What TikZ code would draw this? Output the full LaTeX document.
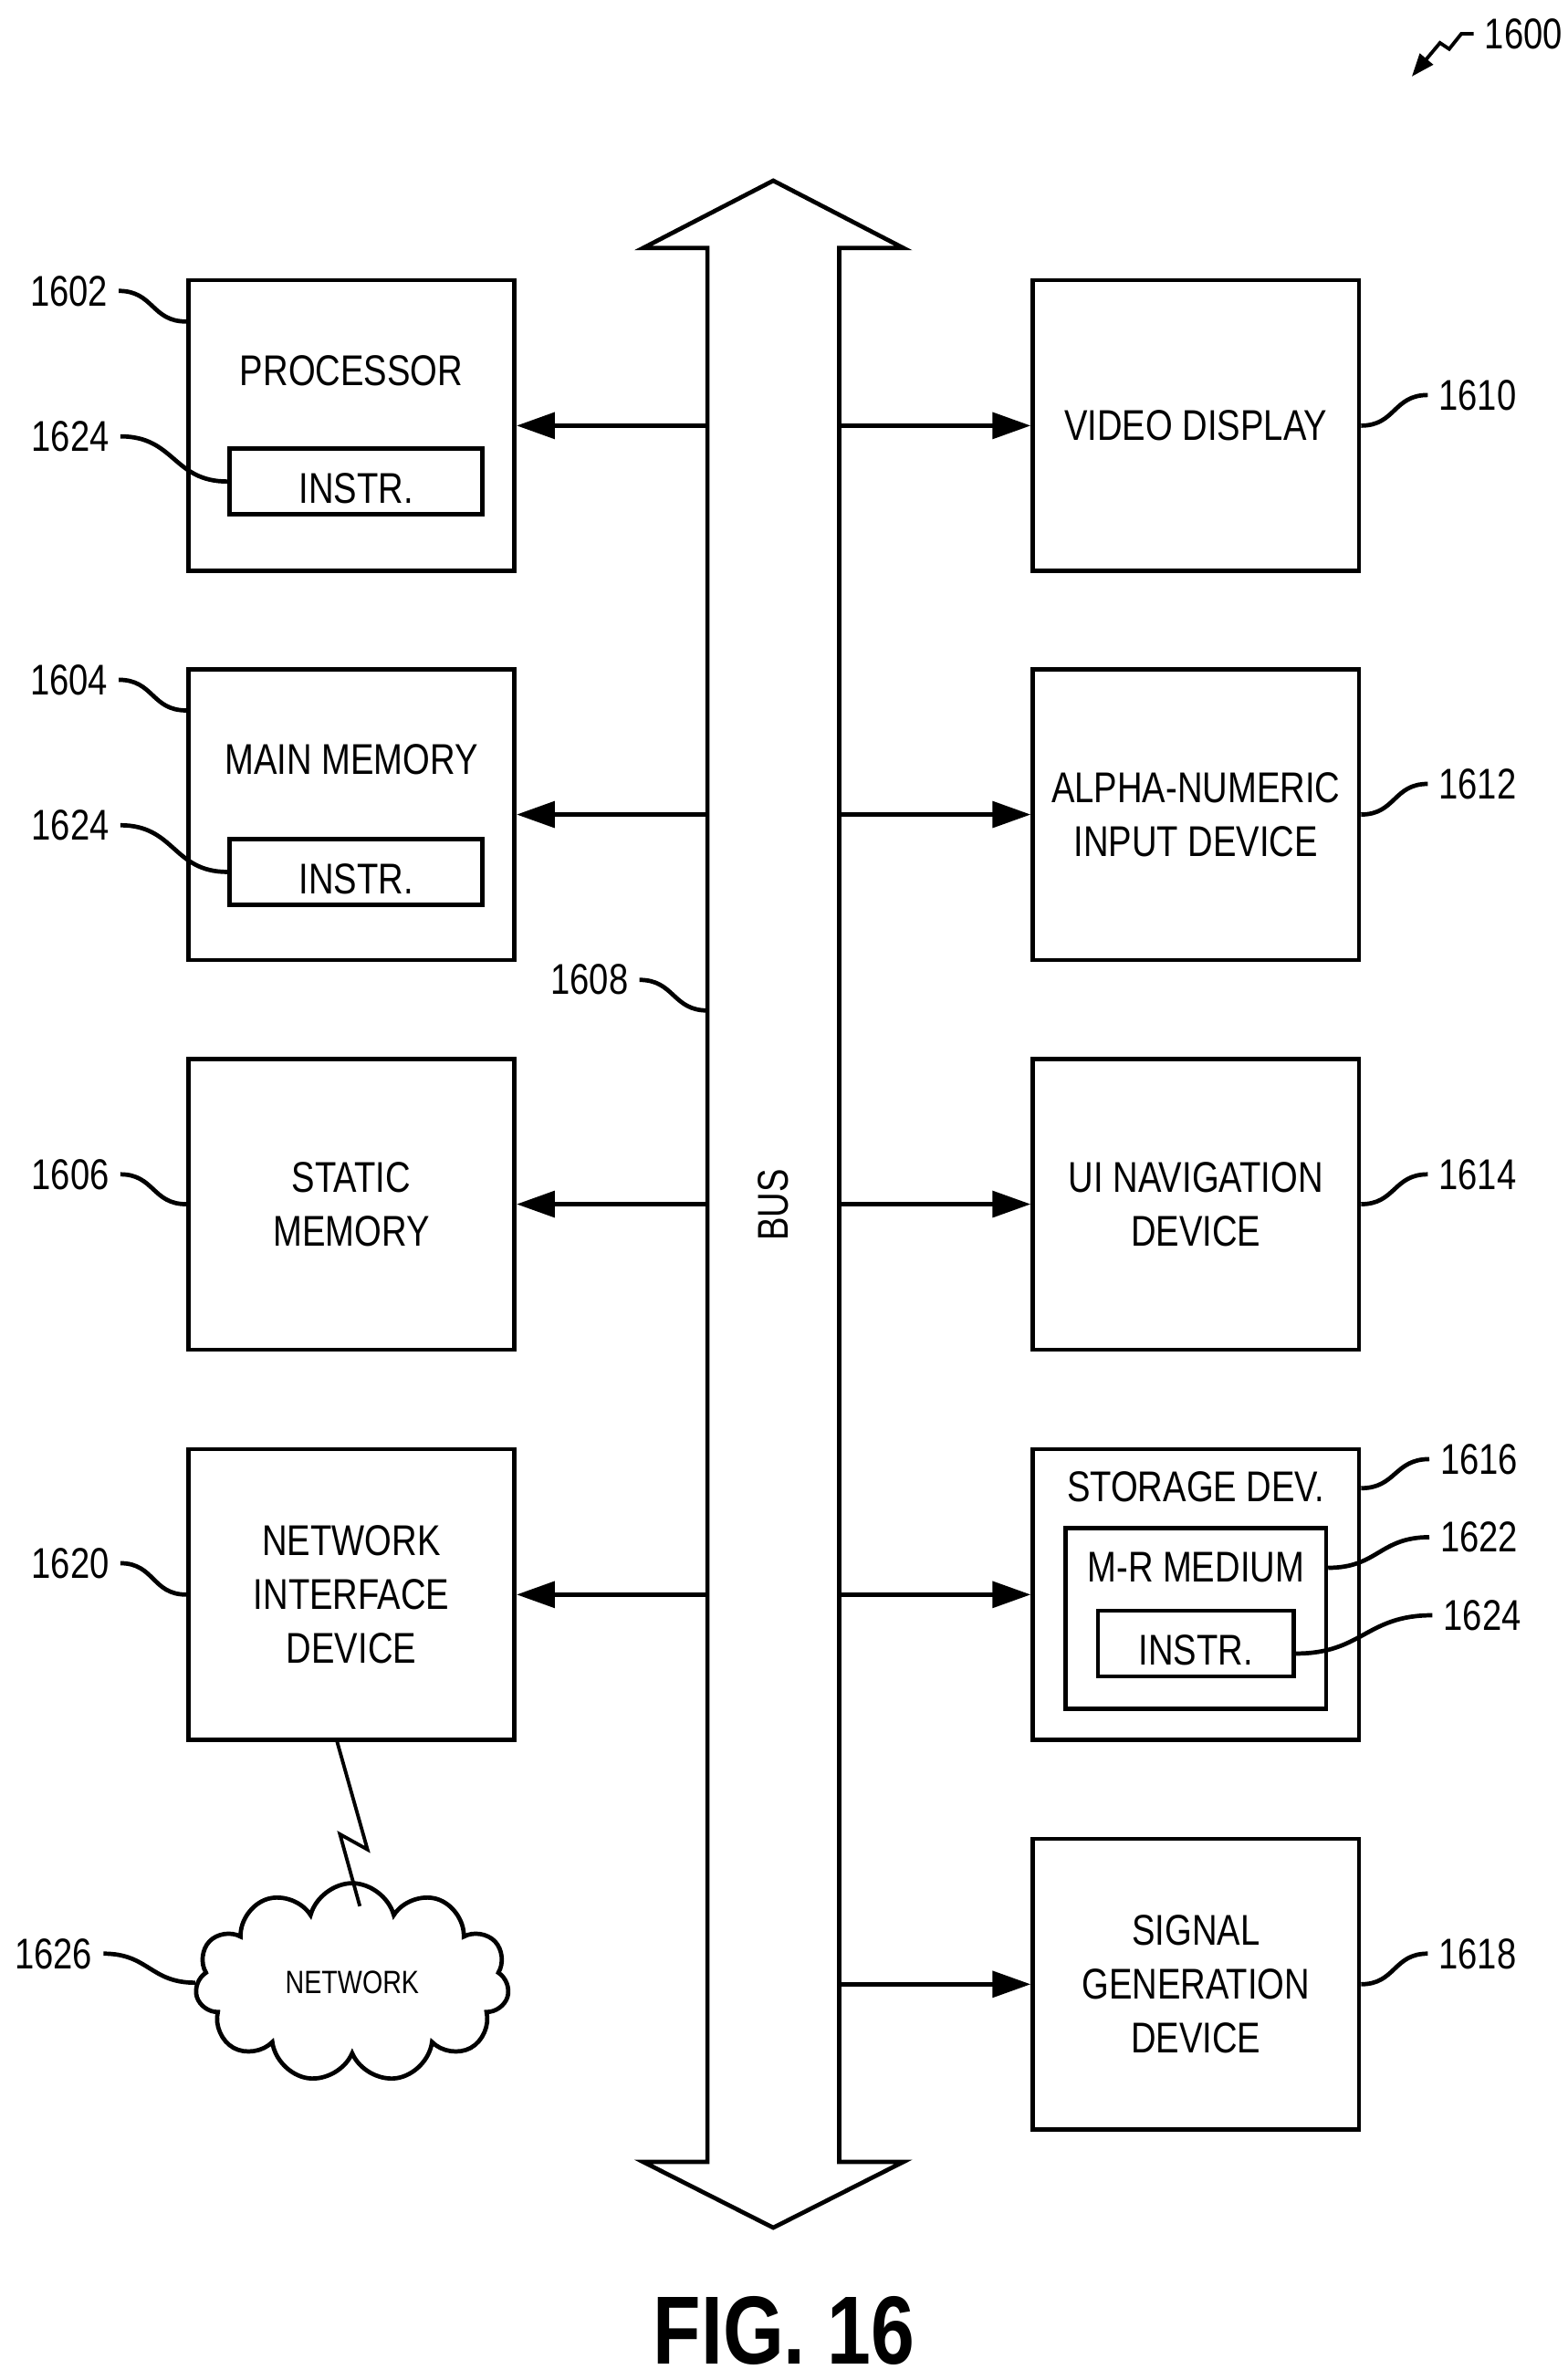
\documentclass[tikz,border=0pt]{standalone}
\usepackage{fontspec}
\setmainfont{Liberation Sans}[FakeStretch=0.81]
\usetikzlibrary{arrows.meta,shapes.symbols}
\begin{document}
\begin{tikzpicture}[x=0.02cm,y=-0.02cm,line width=1.6pt,
	font=\fontsize{16}{20}\selectfont,
	box/.style={draw,minimum width=4.26cm,minimum height=3.8cm},
	inbox/.style={draw,minimum width=3.3cm,minimum height=0.86cm},
	arr/.style={-{Triangle[length=0.5cm,width=0.34cm]}},
	lead/.style={line width=1.3pt,out=0,in=180,looseness=1.2}]
	\useasboundingbox (0,0) rectangle (1024,1554.5);

	% Bus
	\draw (462,1412) -- (462,162) -- (420,162) -- (505,118) -- (590,162) -- (548,162)
		-- (548,1412) -- (590,1412) -- (505,1455) -- (420,1412) -- cycle;
	\node[rotate=90] (bus) at (505,787) {BUS};
	\coordinate (busL) at (462,660);

	% Left column
	\node[box] (proc) at (229.5,278) {};
	\node (proctxt) at (229.5,242) {PROCESSOR};
	\node[inbox] (instr1) at (232.5,314.5) {};
	\node (instr1txt) at (232.5,319) {INSTR.};
	\node[box] (mem) at (229.5,532) {};
	\node (memtxt) at (229.5,496) {MAIN MEMORY};
	\node[inbox] (instr2) at (232.5,569.5) {};
	\node (instr2txt) at (232.5,574) {INSTR.};
	\node[box,align=center] (stat) at (229.5,786.5) {STATIC\\MEMORY};
	\node[box,align=center] (nid) at (229.5,1041.5) {NETWORK\\INTERFACE\\DEVICE};
	\node[cloud,draw,cloud puffs=11,aspect=1.7,minimum width=4.1cm,minimum height=2.6cm,
		font=\fontsize{12}{14}\selectfont] (net) at (230,1295) {NETWORK};

	% Right column
	\node[box] (video) at (781,278) {VIDEO DISPLAY};
	\node[box,align=center] (alpha) at (781,532) {ALPHA-NUMERIC\\INPUT DEVICE};
	\node[box,align=center] (uinav) at (781,786.5) {UI NAVIGATION\\DEVICE};
	\node[box] (stor) at (781,1041.5) {};
	\node (stortxt) at (781,971) {STORAGE DEV.};
	\node[draw,minimum width=3.4cm,minimum height=2.36cm] (mr) at (781,1057) {};
	\node (mrtxt) at (781,1024) {M-R MEDIUM};
	\node[draw,minimum width=2.56cm,minimum height=0.86cm] (instr3) at (781,1073.5) {};
	\node (instr3txt) at (781,1078) {INSTR.};
	\node[box,align=center] (sig) at (781,1296) {SIGNAL\\GENERATION\\DEVICE};

	% Arrows
	\foreach \y/\b in {278/proc,532/mem,786.5/stat,1041.5/nid}
		\draw[arr] (462,\y) -- (\b.east |- 0,\y);
	\foreach \y/\b in {278/video,532/alpha,786.5/uinav,1041.5/stor,1296/sig}
		\draw[arr] (548,\y) -- (\b.west |- 0,\y);

	% Lightning
	\draw[line width=1.3pt] (220,1137) -- (240,1208) -- (222,1198) -- (235,1245);

	% Reference labels
	\node (l1602) at (45,190) {1602};
	\node (l1624a) at (46,285) {1624};
	\node (l1604) at (45,444) {1604};
	\node (l1624b) at (46,539) {1624};
	\node (l1608) at (385,640) {1608};
	\node (l1606) at (46,767) {1606};
	\node (l1620) at (46,1021) {1620};
	\node (l1626) at (35,1276) {1626};
	\node (l1610) at (965,258) {1610};
	\node (l1612) at (965,512) {1612};
	\node (l1614) at (965,767) {1614};
	\node (l1616) at (966,953) {1616};
	\node (l1622) at (966,1004) {1622};
	\node (l1624c) at (968,1055) {1624};
	\node (l1618) at (965,1276) {1618};
	\node (l1600) at (995,22) {1600};

	\draw (l1602.east) to[lead] (proc.west |- 0,210);
	\draw (l1624a.east) to[lead] (instr1.west);
	\draw (l1604.east) to[lead] (mem.west |- 0,464);
	\draw (l1624b.east) to[lead] (instr2.west);
	\draw (l1608.east) to[lead] (busL);
	\draw (l1606.east) to[lead] (stat.west);
	\draw (l1620.east) to[lead] (nid.west);
	\draw (l1626.east) to[lead] (net.west);
	\draw (video.east) to[lead] (l1610.west);
	\draw (alpha.east) to[lead] (l1612.west);
	\draw (uinav.east) to[lead] (l1614.west);
	\draw (stor.east |- 0,972) to[lead] (l1616.west);
	\draw (mr.east |- 0,1024) to[lead] (l1622.west);
	\draw (instr3.east |- 0,1080) to[lead] (l1624c.west);
	\draw (sig.east) to[lead] (l1618.west);
	\coordinate (p1600) at (922,50);
	\draw[line width=1.3pt,-{Triangle[length=0.3cm,width=0.22cm]}] (l1600.west) -- ++(-8,0) -- ++(-8,10) -- ++(-6,-4) -- (p1600);

	\node[font=\fontsize{36}{40}\selectfont\bfseries] (fig) at (512,1522) {FIG. 16};
\end{tikzpicture}
\end{document}
